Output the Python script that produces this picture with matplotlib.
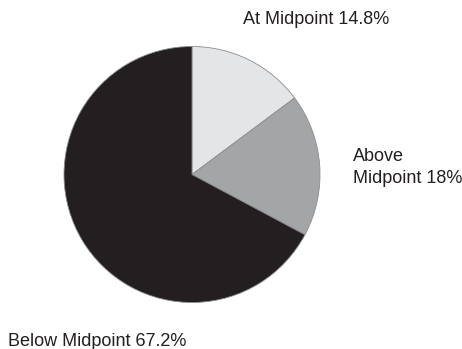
import matplotlib
matplotlib.use("Agg")
import matplotlib.pyplot as plt

labels = ['At Midpoint', 'Above Midpoint', 'Below Midpoint']
shares = [14.8, 18.0, 67.2]
colors = ['#e4e5e6', '#a3a5a7', '#231f20']

plt.rcParams['font.family'] = ['Liberation Sans', 'DejaVu Sans']

W, H = 462, 349
fig = plt.figure(figsize=(W / 100, H / 100), dpi=100)

# pie centre (192, 174.5) px, radius 128 px
cx, cy, r = 192, 174.5, 128
ax = fig.add_axes([(cx - r) / W, 1 - (cy + r) / H, 2 * r / W, 2 * r / H])
ax.pie(shares, colors=colors, startangle=90, counterclock=False,
       wedgeprops=dict(edgecolor='#8a8c8e', linewidth=0.6))
ax.set_xlim(-1, 1)
ax.set_ylim(-1, 1)
ax.set_aspect('equal')
ax.axis('off')


def px_text(x, y, s):
    fig.text(x / W, 1 - y / H, s, fontsize=13, color='#231f20',
             ha='left', va='baseline')


px_text(243, 24, f'{labels[0]} {shares[0]:g}%')
px_text(353, 161, 'Above')
px_text(353, 183, f'Midpoint {shares[1]:g}%')
px_text(8, 346, f'{labels[2]} {shares[2]:g}%')

fig.savefig('out.png', dpi=100)
